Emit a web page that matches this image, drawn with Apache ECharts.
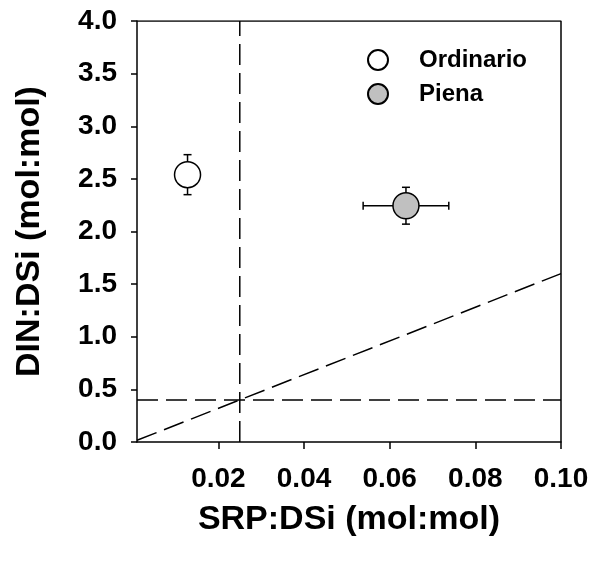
<!DOCTYPE html>
<html>
<head>
<meta charset="utf-8">
<script src="https://cdn.jsdelivr.net/npm/echarts@6/dist/echarts.min.js"></script>
<style>
  html, body { margin: 0; padding: 0; background: #fff; }
  #chart { width: 592px; height: 563px; }
</style>
</head>
<body>
<div id="chart"></div>
<script>
// categories
const seriesNames = ['Ordinario', 'Piena']
const seriesColors = ['#ffffff', '#c0c0c0']

// point values: [SRP:DSi, DIN:DSi]
const ordinarioPoint = [0.0128, 2.54]
const pienaPoint = [0.0638, 2.245]

// error bars: [xErr, yErr]
const ordinarioErr = [0, 0.19]
const pienaErr = [0.010, 0.175]

// reference lines
const srpLimit = [[0.025, 0], [0.025, 4]]
const dinLimit = [[0.001, 0.4], [0.1, 0.4]]
const redfieldLine = [[0.001, 0.016], [0.1, 1.6]]

// tick labels
const xTicks = [0.02, 0.04, 0.06, 0.08, 0.10]

const FONT = '"Liberation Sans", Arial, sans-serif'

const chart = echarts.init(document.getElementById('chart'))

function errorBars(point, err) {
  return {
    type: 'custom',
    silent: true,
    z: 3,
    data: [[point[0], point[1], err[0], err[1]]],
    renderItem(params, api) {
      const x = api.value(0)
      const y = api.value(1)
      const ex = api.value(2)
      const ey = api.value(3)
      const style = { stroke: '#000', lineWidth: 1.5, fill: null }
      const children = []
      const cap = 4
      if (ey > 0) {
        const top = api.coord([x, y + ey])
        const bot = api.coord([x, y - ey])
        children.push(
          { type: 'line', shape: { x1: top[0], y1: top[1], x2: bot[0], y2: bot[1] }, style },
          { type: 'line', shape: { x1: top[0] - cap, y1: top[1], x2: top[0] + cap, y2: top[1] }, style },
          { type: 'line', shape: { x1: bot[0] - cap, y1: bot[1], x2: bot[0] + cap, y2: bot[1] }, style }
        )
      }
      if (ex > 0) {
        const l = api.coord([x - ex, y])
        const r = api.coord([x + ex, y])
        children.push(
          { type: 'line', shape: { x1: l[0], y1: l[1], x2: r[0], y2: r[1] }, style },
          { type: 'line', shape: { x1: l[0], y1: l[1] - cap, x2: l[0], y2: l[1] + cap }, style },
          { type: 'line', shape: { x1: r[0], y1: r[1] - cap, x2: r[0], y2: r[1] + cap }, style }
        )
      }
      return { type: 'group', children }
    }
  }
}

function refLine(data) {
  return {
    type: 'line',
    data,
    symbol: 'none',
    silent: true,
    z: 1,
    lineStyle: { color: '#000', width: 1.5, type: [21, 8] }
  }
}

chart.setOption({
  animation: false,
  backgroundColor: '#fff',
  textStyle: { fontFamily: FONT },
  legend: {
    orient: 'vertical',
    left: 362,
    top: 43,
    itemWidth: 20,
    itemHeight: 20,
    itemGap: 10,
    icon: 'circle',
    data: seriesNames,
    textStyle: {
      fontFamily: FONT,
      fontSize: 24,
      fontWeight: 'bold',
      color: '#000',
      padding: [0, 0, 0, 26]
    }
  },
  grid: {
    left: 137,
    right: 31,
    top: 21,
    bottom: 121,
    outerBoundsMode: 'none',
    containLabel: false
  },
  xAxis: {
    type: 'value',
    min: 0.001,
    max: 0.1,
    name: 'SRP:DSi (mol:mol)',
    nameLocation: 'middle',
    nameGap: 61,
    nameTextStyle: { fontFamily: FONT, fontSize: 34, fontWeight: 'bold', color: '#000' },
    axisLine: { show: true, onZero: false, lineStyle: { color: '#000', width: 1.5 } },
    axisTick: { show: true, inside: false, length: 7, customValues: xTicks, lineStyle: { color: '#000', width: 1.5 } },
    axisLabel: {
      customValues: xTicks,
      margin: 23,
      fontFamily: FONT,
      fontSize: 28,
      fontWeight: 'bold',
      color: '#000',
      formatter: v => v.toFixed(2)
    },
    splitLine: { show: false }
  },
  yAxis: {
    type: 'value',
    min: 0,
    max: 4,
    interval: 0.5,
    name: 'DIN:DSi (mol:mol)',
    nameLocation: 'middle',
    nameGap: 90,
    nameTextStyle: { fontFamily: FONT, fontSize: 34, fontWeight: 'bold', color: '#000' },
    axisLine: { show: true, onZero: false, lineStyle: { color: '#000', width: 1.5 } },
    axisTick: { show: true, inside: false, length: 6, lineStyle: { color: '#000', width: 1.5 } },
    axisLabel: {
      margin: 20,
      fontFamily: FONT,
      fontSize: 28,
      fontWeight: 'bold',
      color: '#000',
      formatter: v => v.toFixed(1)
    },
    splitLine: { show: false }
  },
  series: [
    refLine(srpLimit),
    refLine(dinLimit),
    refLine(redfieldLine),
    // top and right frame lines
    {
      type: 'line',
      data: [[0.001, 4], [0.1, 4], [0.1, 0]],
      symbol: 'none',
      silent: true,
      z: 1,
      lineStyle: { color: '#000', width: 1.5 }
    },
    errorBars(ordinarioPoint, ordinarioErr),
    errorBars(pienaPoint, pienaErr),
    {
      name: seriesNames[0],
      type: 'scatter',
      z: 4,
      symbolSize: 26,
      data: [ordinarioPoint],
      itemStyle: { color: seriesColors[0], borderColor: '#000', borderWidth: 1.5, opacity: 1 }
    },
    {
      name: seriesNames[1],
      type: 'scatter',
      z: 4,
      symbolSize: 26,
      data: [pienaPoint],
      itemStyle: { color: seriesColors[1], borderColor: '#000', borderWidth: 1.5, opacity: 1 }
    }
  ]
})
</script>
</body>
</html>
